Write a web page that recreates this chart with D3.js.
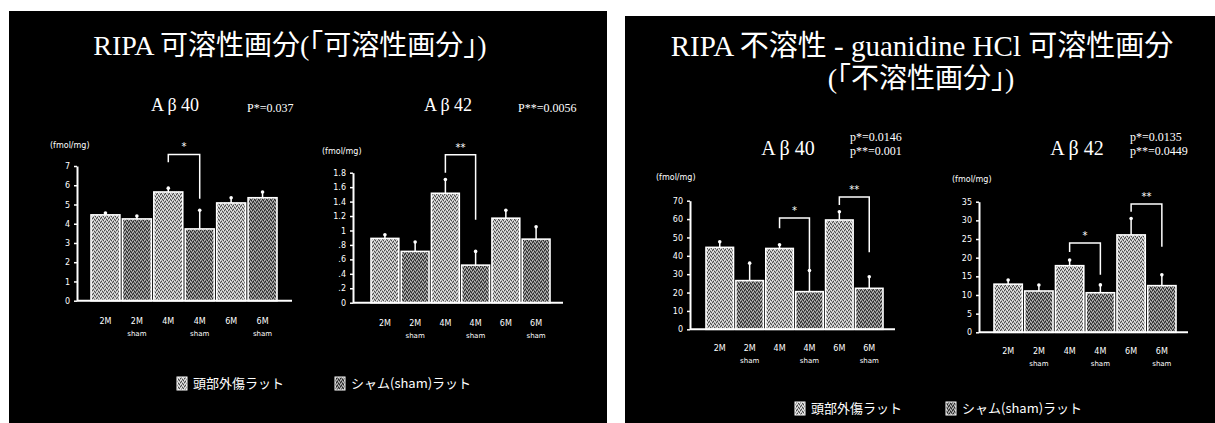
<!DOCTYPE html>
<html lang="ja">
<head>
  <meta charset="UTF-8">
  <title>RIPA 可溶性画分 / 不溶性画分</title>
  <script src="https://d3js.org/d3.v7.min.js"></script>
  <style>
    * { margin: 0; padding: 0; box-sizing: border-box; }
    body { background: #fff; width: 1215px; height: 423px; overflow: hidden; }
    text { fill: #fff; }
    .serif { font-family: "Liberation Serif", "DejaVu Serif", "Noto Sans CJK JP", serif; }
    .sans { font-family: "Noto Sans CJK JP", "DejaVu Sans", sans-serif; }
  </style>
</head>
<body>
  <div id="chart"></div>
  <script>
    // ---- data ----
    const groups = ["2M", "4M", "6M"];

    // RIPA soluble, A-beta 40
    const solA40Trauma    = [4.46, 5.65, 5.08];
    const solA40TraumaErr = [0.10, 0.20, 0.27];
    const solA40Sham      = [4.25, 3.73, 5.35];
    const solA40ShamErr   = [0.15, 0.97, 0.30];
    const solA40Ticks     = [0, 1, 2, 3, 4, 5, 6, 7];

    // RIPA soluble, A-beta 42
    const solA42Trauma    = [0.89, 1.515, 1.17];
    const solA42TraumaErr = [0.05, 0.19, 0.11];
    const solA42Sham      = [0.71, 0.52, 0.88];
    const solA42ShamErr   = [0.13, 0.19, 0.17];
    const solA42Ticks     = [0, 0.2, 0.4, 0.6, 0.8, 1, 1.2, 1.4, 1.6, 1.8];

    // RIPA insoluble (guanidine HCl soluble), A-beta 40
    const insA40Trauma    = [44.6, 44.0, 59.5];
    const insA40TraumaErr = [3.0, 2.0, 4.5];
    const insA40Sham      = [26.5, 20.5, 22.3];
    const insA40ShamErr   = [9.5, 11.5, 6.3];
    const insA40Ticks     = [0, 10, 20, 30, 40, 50, 60, 70];

    // RIPA insoluble (guanidine HCl soluble), A-beta 42
    const insA42Trauma    = [12.9, 17.85, 26.1];
    const insA42TraumaErr = [1.1, 1.5, 4.4];
    const insA42Sham      = [11.07, 10.6, 12.5];
    const insA42ShamErr   = [1.6, 2.1, 2.9];
    const insA42Ticks     = [0, 5, 10, 15, 20, 25, 30, 35];

    // significance brackets: top and leg ends in data units
    const solA40Brackets = [{ g: "4M", top: 7.6, left: 7.2, right: 5.3, label: "*" }];
    const solA42Brackets = [{ g: "4M", top: 2.05, left: 1.8, right: 1.15, label: "**" }];
    const insA40Brackets = [
      { g: "4M", top: 60.6, left: 55, right: 32, label: "*" },
      { g: "6M", top: 72, left: 67.7, right: 42, label: "**" }
    ];
    const insA42Brackets = [
      { g: "4M", top: 23.9, left: 21.5, right: 15.4, label: "*" },
      { g: "6M", top: 34.4, left: 32.3, right: 22.9, label: "**" }
    ];

    const legendLabels = ["頭部外傷ラット", "シャム(sham)ラット"];

    // ---- drawing ----
    const svg = d3.select("#chart").append("svg")
      .attr("width", 1215).attr("height", 423);

    // stippled fills, like the scanned halftone bars
    const defs = svg.append("defs");
    function stipple(id, base, light, dark) {
      const p = defs.append("pattern").attr("id", id)
        .attr("patternUnits", "userSpaceOnUse").attr("width", 4).attr("height", 4);
      p.append("rect").attr("width", 4).attr("height", 4).attr("fill", base);
      [[0, 0], [2, 1], [1, 3], [3, 2]].forEach(([x, y]) =>
        p.append("rect").attr("x", x).attr("y", y).attr("width", 1).attr("height", 1).attr("fill", light));
      [[1, 1], [3, 0], [0, 2], [2, 3]].forEach(([x, y]) =>
        p.append("rect").attr("x", x).attr("y", y).attr("width", 1).attr("height", 1).attr("fill", dark));
    }
    stipple("trauma", "#adadad", "#ececec", "#4a4a4a");
    stipple("sham", "#727272", "#bdbdbd", "#262626");

    // black slide panels
    svg.append("rect").attr("x", 9).attr("y", 11).attr("width", 598).attr("height", 412).attr("fill", "#000");
    svg.append("rect").attr("x", 625).attr("y", 16).attr("width", 590).attr("height", 407).attr("fill", "#000");

    // titles
    svg.append("text").attr("class", "serif").attr("x", 290).attr("y", 55)
      .attr("text-anchor", "middle").style("font-size", "28px")
      .text("RIPA 可溶性画分(「可溶性画分」)");
    svg.append("text").attr("class", "serif").attr("x", 922).attr("y", 56)
      .attr("text-anchor", "middle").style("font-size", "29px")
      .text("RIPA 不溶性 - guanidine HCl 可溶性画分");
    svg.append("text").attr("class", "serif").attr("x", 921).attr("y", 88)
      .attr("text-anchor", "middle").style("font-size", "28px")
      .text("(「不溶性画分」)");

    function drawChart(c) {
      const keys = groups.flatMap(g => [g + "|t", g + "|s"]);
      const y = d3.scaleLinear().domain(c.domain).range(c.yRange);
      const x = d3.scaleBand().domain(keys).range(c.xRange).paddingInner(0.08).paddingOuter(0);
      const g = svg.append("g");

      const rows = groups.flatMap((grp, i) => [
        { key: grp + "|t", grp, sham: false, v: c.trauma[i], e: c.traumaErr[i] },
        { key: grp + "|s", grp, sham: true, v: c.sham[i], e: c.shamErr[i] }
      ]);

      // error bars (upper half only)
      g.selectAll(".err").data(rows).join("line")
        .attr("x1", d => x(d.key) + x.bandwidth() / 2).attr("x2", d => x(d.key) + x.bandwidth() / 2)
        .attr("y1", d => y(d.v)).attr("y2", d => y(d.v + d.e))
        .attr("stroke", "#fff").attr("stroke-width", 1.5);
      g.selectAll(".cap").data(rows).join("circle")
        .attr("cx", d => x(d.key) + x.bandwidth() / 2).attr("cy", d => y(d.v + d.e))
        .attr("r", 1.8).attr("fill", "#fff");

      g.selectAll(".bar").data(rows).join("rect")
        .attr("x", d => x(d.key)).attr("width", x.bandwidth())
        .attr("y", d => y(d.v)).attr("height", d => y(0) - y(d.v))
        .attr("fill", d => d.sham ? "url(#sham)" : "url(#trauma)")
        .attr("stroke", "#fff").attr("stroke-width", 1.6);

      // y axis
      const ax = g.append("g").attr("transform", `translate(${c.axisX},0)`)
        .call(d3.axisLeft(y).tickValues(c.ticks).tickSize(3).tickSizeOuter(0)
          .tickFormat(c.fmt));
      ax.select(".domain").attr("stroke", "#fff").attr("stroke-width", 2);
      ax.selectAll(".tick line").attr("stroke", "#fff").attr("stroke-width", 1.5);
      ax.selectAll(".tick text").attr("fill", "#fff").attr("x", -7)
        .style("font-size", "8px").style("font-family", "DejaVu Sans, sans-serif");

      // x baseline
      g.append("line").attr("x1", c.axisX).attr("x2", c.axisEnd)
        .attr("y1", y(0)).attr("y2", y(0)).attr("stroke", "#fff").attr("stroke-width", 2);

      // category labels
      g.selectAll(".xl").data(rows).join("text")
        .attr("x", d => x(d.key) + x.bandwidth() / 2).attr("y", y(0) + c.labelDy)
        .attr("text-anchor", "middle").style("font-size", "8px")
        .style("font-family", "DejaVu Sans, sans-serif").text(d => d.grp);
      g.selectAll(".xs").data(rows.filter(d => d.sham)).join("text")
        .attr("x", d => x(d.key) + x.bandwidth() / 2).attr("y", y(0) + c.labelDy + 12)
        .attr("text-anchor", "middle").style("font-size", "7px")
        .style("font-family", "DejaVu Sans, sans-serif").text("sham");

      // unit
      g.append("text").attr("x", c.unit[0]).attr("y", c.unit[1])
        .style("font-size", "8px").style("font-family", "DejaVu Sans, sans-serif")
        .text("(fmol/mg)");

      // brackets
      c.brackets.forEach(b => {
        const xl = x(b.g + "|t") + x.bandwidth() / 2;
        const xr = x(b.g + "|s") + x.bandwidth() / 2;
        g.append("path")
          .attr("d", `M${xl},${y(b.left)}V${y(b.top)}H${xr}V${y(b.right)}`)
          .attr("fill", "none").attr("stroke", "#fff").attr("stroke-width", 1.5);
        g.append("text").attr("x", (xl + xr) / 2).attr("y", y(b.top) - 4)
          .attr("text-anchor", "middle").style("font-size", "10px")
          .style("font-family", "DejaVu Sans, sans-serif").text(b.label);
      });

      // heading and p values
      g.append("text").attr("class", "serif").attr("x", c.head[0]).attr("y", c.head[1])
        .attr("text-anchor", "middle").style("font-size", c.headSize + "px").text(c.name);
      c.pvals.forEach((p, i) => {
        g.append("text").attr("class", "serif").attr("x", c.pPos[0]).attr("y", c.pPos[1] + i * 14)
          .style("font-size", c.pSize + "px").text(p);
      });
    }

    const fmtDec = d => d === 0 ? "0" : (d < 1 ? d3.format(".1f")(d).replace(/^0/, "") : d3.format("~g")(d));

    drawChart({
      name: "A β 40", head: [175, 111], headSize: 18, pvals: ["P*=0.037"], pPos: [247, 112], pSize: 12,
      trauma: solA40Trauma, traumaErr: solA40TraumaErr, sham: solA40Sham, shamErr: solA40ShamErr,
      domain: [0, 7], yRange: [300.7, 166], ticks: solA40Ticks, fmt: d3.format("d"),
      xRange: [91, 277], axisX: 77, axisEnd: 292, labelDy: 23, unit: [50, 148],
      brackets: solA40Brackets
    });
    drawChart({
      name: "A β 42", head: [448, 111], headSize: 18, pvals: ["P**=0.0056"], pPos: [518, 112], pSize: 12,
      trauma: solA42Trauma, traumaErr: solA42TraumaErr, sham: solA42Sham, shamErr: solA42ShamErr,
      domain: [0, 1.8], yRange: [302.7, 172.7], ticks: solA42Ticks, fmt: fmtDec,
      xRange: [371, 550], axisX: 353, axisEnd: 563, labelDy: 23, unit: [322, 154],
      brackets: solA42Brackets
    });
    drawChart({
      name: "A β 40", head: [788, 155], headSize: 20, pvals: ["p*=0.0146", "p**=0.001"], pPos: [850, 141], pSize: 12,
      trauma: insA40Trauma, traumaErr: insA40TraumaErr, sham: insA40Sham, shamErr: insA40ShamErr,
      domain: [0, 70], yRange: [329.3, 200.7], ticks: insA40Ticks, fmt: d3.format("d"),
      xRange: [706, 883], axisX: 690, axisEnd: 895, labelDy: 22, unit: [656, 180],
      brackets: insA40Brackets
    });
    drawChart({
      name: "A β 42", head: [1077, 155], headSize: 20, pvals: ["p*=0.0135", "p**=0.0449"], pPos: [1130, 141], pSize: 12,
      trauma: insA42Trauma, traumaErr: insA42TraumaErr, sham: insA42Sham, shamErr: insA42ShamErr,
      domain: [0, 35], yRange: [332.3, 201.7], ticks: insA42Ticks, fmt: d3.format("d"),
      xRange: [994, 1176], axisX: 979, axisEnd: 1188, labelDy: 22, unit: [952, 182],
      brackets: insA42Brackets
    });

    // legends
    function legend(items) {
      items.forEach((it, i) => {
        svg.append("rect").attr("x", it.x).attr("y", it.y - 11).attr("width", 10).attr("height", 13)
          .attr("fill", i === 0 ? "url(#trauma)" : "url(#sham)").attr("stroke", "#fff").attr("stroke-width", 1);
        svg.append("text").attr("class", "sans").attr("x", it.x + 16).attr("y", it.y)
          .style("font-size", "13px").text(legendLabels[i]);
      });
    }
    legend([{ x: 177, y: 388 }, { x: 335, y: 388 }]);
    legend([{ x: 795, y: 413 }, { x: 946, y: 413 }]);
  </script>
</body>
</html>
